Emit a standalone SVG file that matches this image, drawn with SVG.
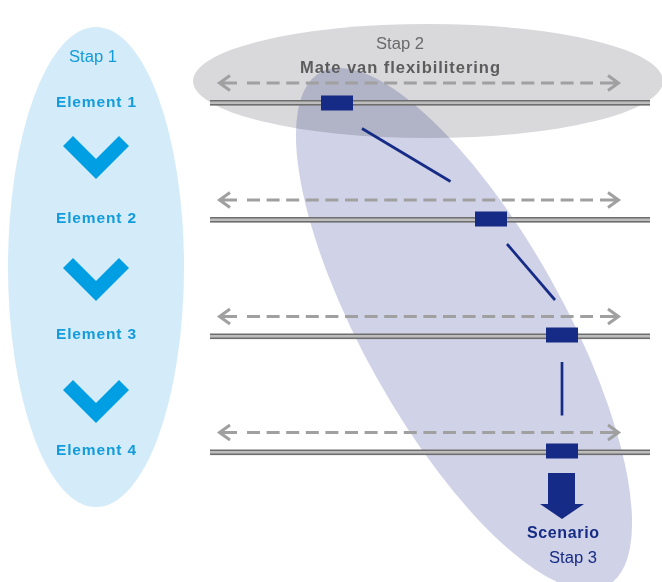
<svg xmlns="http://www.w3.org/2000/svg" width="662" height="582" viewBox="0 0 662 582">
  <style>
    .lbl { font-family: "Liberation Sans", Arial, sans-serif; }
    .blue { fill: #129cdb; }
    .bold { font-weight: bold; }
    .navy { fill: #162b85; }
    .chev { fill: #009fe3; }
    .dash { stroke: #a0a0a0; stroke-width: 3; fill: none; stroke-dasharray: 13 6.6; }
    .head { stroke: #a0a0a0; stroke-width: 3; fill: none; stroke-linejoin: miter; }
    .rail { fill: #6e6e6e; }
    .railc { stroke: #bdbdbd; stroke-width: 2.4; }
    .box { fill: #162b85; }
    .link { stroke: #162b85; stroke-width: 2.7; }
  </style>
  <defs>
    <!-- one slider track: double rail + flexibility range arrow -->
    <g id="track">
      <path class="dash" d="M247 0 H593"/>
      <path class="head" d="M230 -7.5 L219.5 0 L230 7.5 M219.5 0 H237"/>
      <path class="head" d="M608 -7.5 L618.5 0 L608 7.5 M618.5 0 H600"/>
      <rect class="rail" x="210" y="17" width="440" height="5.6"/>
      <line class="railc" x1="210" y1="19.8" x2="650" y2="19.8"/>
    </g>
    <polygon id="chevron" points="63,10 73,0 96,23 119,0 129,10 96,43"/>
  </defs>

  <!-- background regions -->
  <ellipse id="stap1-area" cx="96" cy="267" rx="88" ry="240" fill="#d4ebf9"/>
  <ellipse id="stap2-area" cx="428" cy="81" rx="235" ry="57" fill="#d9d9dc"/>
  <ellipse id="stap3-area" cx="464" cy="329" rx="100" ry="294" transform="rotate(-29.25 464 329)" fill="#d0d3e7" style="mix-blend-mode:multiply"/>

  <!-- step 1 column -->
  <g id="stap1">
    <text class="lbl blue" x="93" y="62" font-size="16" text-anchor="middle" textLength="48" lengthAdjust="spacingAndGlyphs">Stap 1</text>
    <use href="#chevron" class="chev" y="136"/>
    <use href="#chevron" class="chev" y="258"/>
    <use href="#chevron" class="chev" y="380"/>
  </g>

  <g id="element1">
    <text class="lbl blue bold" x="56" y="107" font-size="15.5" textLength="80" lengthAdjust="spacing">Element 1</text>
    <use href="#track" y="83"/>
    <rect class="box" x="321" y="95.5" width="32" height="15"/>
  </g>
  <g id="element2">
    <text class="lbl blue bold" x="56" y="223" font-size="15.5" textLength="80" lengthAdjust="spacing">Element 2</text>
    <use href="#track" y="200"/>
    <rect class="box" x="475" y="211.5" width="32" height="15"/>
  </g>
  <g id="element3">
    <text class="lbl blue bold" x="56" y="339" font-size="15.5" textLength="80" lengthAdjust="spacing">Element 3</text>
    <use href="#track" y="316.5"/>
    <rect class="box" x="546" y="327.5" width="32" height="15"/>
  </g>
  <g id="element4">
    <text class="lbl blue bold" x="56" y="455" font-size="15.5" textLength="80" lengthAdjust="spacing">Element 4</text>
    <use href="#track" y="432.5"/>
    <rect class="box" x="546" y="443.5" width="32" height="15"/>
  </g>

  <g id="stap2">
    <text class="lbl" x="400" y="49" font-size="16" fill="#6a6a6a" text-anchor="middle" textLength="48" lengthAdjust="spacingAndGlyphs">Stap 2</text>
    <text class="lbl bold" x="300" y="73" font-size="16.5" fill="#5c5c5c" textLength="200" lengthAdjust="spacing">Mate van flexibilitering</text>
  </g>

  <g id="connectors">
    <line class="link" x1="362" y1="128.5" x2="450.5" y2="181.5"/>
    <line class="link" x1="507" y1="244" x2="555" y2="300"/>
    <line class="link" x1="562" y1="362" x2="562" y2="415.5"/>
    <polygon class="navy" points="548,473 575,473 575,504 584,504 562,519 540,504 548,504"/>
  </g>

  <g id="scenario">
    <text class="lbl bold navy" x="527" y="537.5" font-size="16" textLength="72" lengthAdjust="spacing">Scenario</text>
    <text class="lbl navy" x="549" y="563" font-size="16" textLength="48" lengthAdjust="spacingAndGlyphs">Stap 3</text>
  </g>
</svg>
